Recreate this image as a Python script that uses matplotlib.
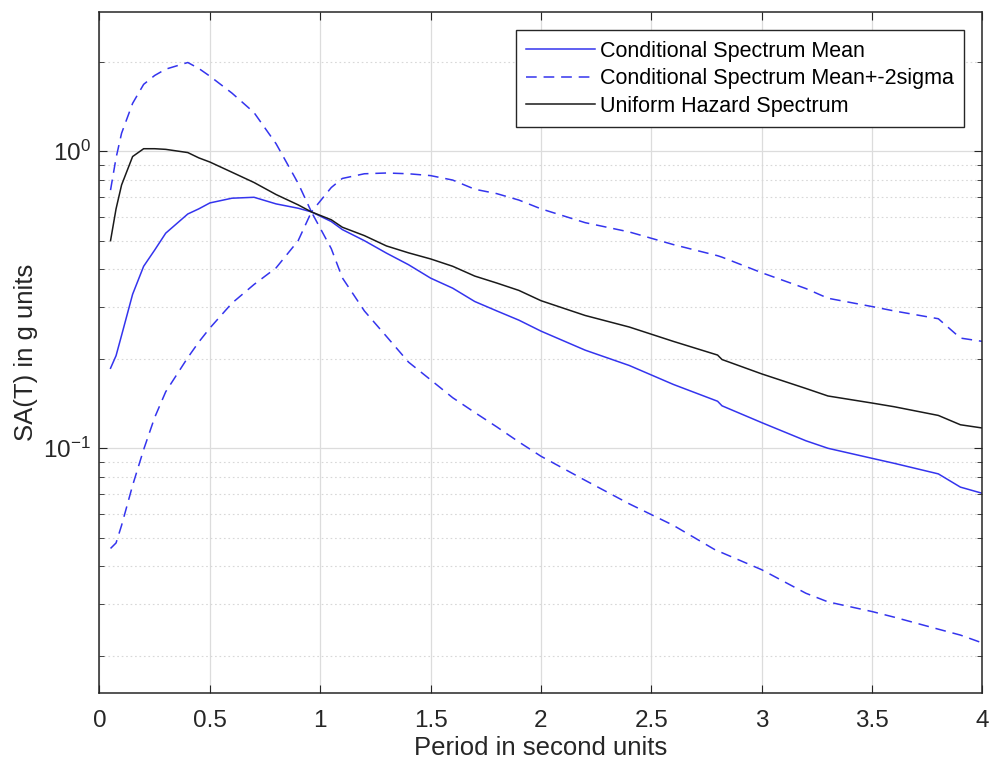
import numpy as np
import matplotlib
matplotlib.use("Agg")
import matplotlib.pyplot as plt
from matplotlib.ticker import LogLocator, NullFormatter

# 周期 (s)
periods = [0.05, 0.075, 0.1, 0.15, 0.2, 0.25, 0.3, 0.4, 0.45, 0.5, 0.6, 0.7, 0.8, 0.9, 0.96,
           1.05, 1.1, 1.2, 1.3, 1.4, 1.5, 1.6, 1.7, 1.8, 1.9, 2.0, 2.2, 2.4, 2.6, 2.8, 2.82,
           3.0, 3.2, 3.3, 3.5, 3.6, 3.8, 3.9, 4.0]

# Conditional Spectrum mean
cs_mean = [0.186, 0.205, 0.24, 0.33, 0.41, 0.465, 0.53, 0.615, 0.64, 0.67, 0.695, 0.70, 0.665, 0.643, 0.625,
           0.58, 0.545, 0.50, 0.454, 0.415, 0.374, 0.346, 0.312, 0.29, 0.27, 0.248, 0.214, 0.19, 0.164, 0.144, 0.139,
           0.122, 0.106, 0.100, 0.0925, 0.089, 0.082, 0.074, 0.0705]

# mean + 2 sigma
cs_upper = [0.74, 0.95, 1.15, 1.45, 1.68, 1.80, 1.89, 1.99, 1.90, 1.79, 1.57, 1.35, 1.06, 0.78, 0.625,
            0.755, 0.81, 0.84, 0.845, 0.84, 0.828, 0.80, 0.745, 0.72, 0.685, 0.64, 0.575, 0.535, 0.485, 0.445, 0.44,
            0.39, 0.345, 0.32, 0.30, 0.29, 0.273, 0.235, 0.229]

# mean - 2 sigma
cs_lower = [0.046, 0.048, 0.055, 0.075, 0.099, 0.127, 0.155, 0.202, 0.228, 0.254, 0.308, 0.356, 0.405, 0.50, 0.625,
            0.47, 0.375, 0.29, 0.238, 0.195, 0.17, 0.148, 0.132, 0.118, 0.105, 0.094, 0.078, 0.065, 0.055, 0.045, 0.0445,
            0.039, 0.0325, 0.0304, 0.0282, 0.027, 0.0246, 0.0235, 0.0221]

# Uniform Hazard Spectrum
uhs = [0.50, 0.64, 0.77, 0.96, 1.02, 1.02, 1.015, 0.99, 0.95, 0.92, 0.85, 0.785, 0.715, 0.66, 0.625,
       0.588, 0.555, 0.52, 0.48, 0.455, 0.434, 0.41, 0.38, 0.36, 0.34, 0.314, 0.28, 0.256, 0.229, 0.206, 0.199,
       0.178, 0.159, 0.15, 0.142, 0.138, 0.129, 0.12, 0.117]

plt.rcParams['font.family'] = ['Liberation Sans', 'DejaVu Sans']

fig = plt.figure(figsize=(9.92, 7.67), dpi=100)
ax = fig.add_axes([0.1003, 0.0965, 0.8901, 0.8882])

blue = '#3434ee'
dash = (0, (7, 4.5))
ax.plot(periods, cs_mean, color=blue, lw=1.1, label='Conditional Spectrum Mean')
ax.plot(periods, cs_upper, color=blue, lw=1.1, ls=dash, label='Conditional Spectrum Mean+-2sigma')
ax.plot(periods, uhs, color='#1a1a1a', lw=1.1, label='Uniform Hazard Spectrum')
ax.plot(periods, cs_lower, color=blue, lw=1.1, ls=dash)

ax.set_yscale('log')
ax.set_xlim(0, 4)
ax.set_ylim(0.015, 2.95)
ax.set_xticks(np.arange(0, 4.01, 0.5))
ax.set_xticklabels(['0', '0.5', '1', '1.5', '2', '2.5', '3', '3.5', '4'])
ax.yaxis.set_minor_locator(LogLocator(base=10, subs=np.arange(2, 10)))
ax.yaxis.set_minor_formatter(NullFormatter())

# 网格: MATLAB 风格
ax.grid(True, which='major', color='#dcdcdc', lw=0.9, ls='-')
ax.grid(True, which='minor', axis='y', color='#d8d8d8', lw=0.8, ls=(0, (1.5, 2.5)))
ax.set_axisbelow(True)

ax.tick_params(which='both', direction='in', top=True, right=True, colors='#262626',
               labelsize=17.5)
ax.tick_params(axis='x', pad=12)
ax.tick_params(axis='y', pad=6)
ax.tick_params(which='major', length=6)
ax.tick_params(which='minor', length=3.5)
for s in ax.spines.values():
    s.set_color('#262626')
    s.set_linewidth(1.1)

ax.set_xlabel('Period in second units', fontsize=18.5, color='#262626', labelpad=3)
ax.set_ylabel('SA(T) in g units', fontsize=18.5, color='#262626', labelpad=4)

leg = ax.legend(loc='upper right', fontsize=15.5, fancybox=False, edgecolor='#262626',
                framealpha=1, handlelength=3.2, borderaxespad=0.85, labelspacing=0.3,
                handletextpad=0.2, borderpad=0.5)
leg.get_frame().set_linewidth(1.0)

fig.savefig('out.png', dpi=100)
